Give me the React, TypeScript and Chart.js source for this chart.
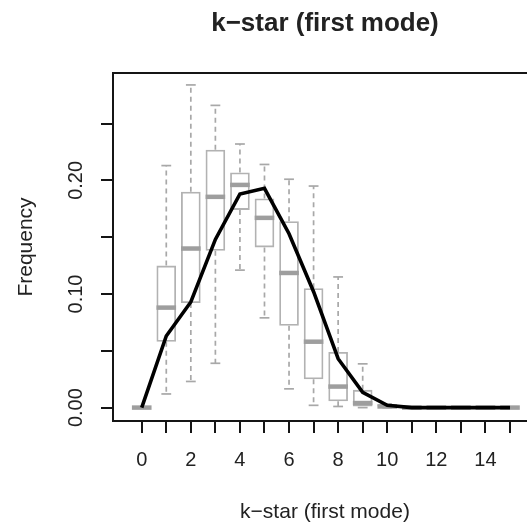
import React, { useEffect, useRef } from "react";
import { Chart, registerables } from "chart.js";

Chart.register(...registerables);

// ---- data ----
const kValues = [0, 1, 2, 3, 4, 5, 6, 7, 8, 9, 10, 11, 12, 13, 14, 15];
const whiskerLow = [0, 0.012, 0.023, 0.039, 0.121, 0.079, 0.0165, 0.002, 0.001, 0, 0, 0, 0, 0, 0, 0];
const quartile1 = [0, 0.058, 0.092, 0.138, 0.174, 0.141, 0.072, 0.025, 0.0056, 0, 0, 0, 0, 0, 0, 0];
const medians = [0, 0.088, 0.14, 0.1855, 0.196, 0.167, 0.1185, 0.058, 0.0185, 0.004, 0.001, 0, 0, 0, 0, 0];
const quartile3 = [0, 0.125, 0.19, 0.227, 0.207, 0.184, 0.164, 0.105, 0.049, 0.0156, 0.003, 0, 0, 0, 0, 0];
const whiskerHigh = [0, 0.213, 0.284, 0.266, 0.232, 0.214, 0.201, 0.195, 0.115, 0.0385, 0.003, 0, 0, 0, 0, 0];
const lineFreq = [0, 0.063, 0.093, 0.148, 0.188, 0.193, 0.153, 0.102, 0.043, 0.0135, 0.002, 0, 0, 0, 0, 0];

const xTickValues = kValues;
const yTickValues = [0, 0.05, 0.1, 0.15, 0.2, 0.25];
const yLabelValues = [0, 0.1, 0.2];

const mainTitle = "k\u2212star (first mode)";
const xTitle = "k\u2212star (first mode)";
const yTitle = "Frequency";

// ---- style ----
const FONT = "'Liberation Sans', Arial, Helvetica, sans-serif";
const AXIS_COLOR = "#151515";
const TEXT_COLOR = "#222";
const BOX_COLOR = "#b2b2b2";
const MEDIAN_COLOR = "#9e9e9e";
const WHISKER_COLOR = "#a8a8a8";

const boxExtras = {
  id: "boxExtras",
  beforeDatasetsDraw(chart: any) {
    const { ctx, chartArea, scales } = chart;
    const x = scales.x;
    const y = scales.y;
    const meta = chart.getDatasetMeta(0);
    ctx.save();
    ctx.beginPath();
    ctx.rect(chartArea.left, chartArea.top, chartArea.right - chartArea.left, chartArea.bottom - chartArea.top);
    ctx.clip();
    ctx.strokeStyle = WHISKER_COLOR;
    ctx.lineWidth = 1.7;
    ctx.setLineDash([5, 4]);
    kValues.forEach((k, i) => {
      const px = x.getPixelForValue(k);
      if (whiskerHigh[i] > quartile3[i]) {
        ctx.beginPath();
        ctx.moveTo(px, y.getPixelForValue(quartile3[i]));
        ctx.lineTo(px, y.getPixelForValue(whiskerHigh[i]));
        ctx.stroke();
      }
      if (whiskerLow[i] < quartile1[i]) {
        ctx.beginPath();
        ctx.moveTo(px, y.getPixelForValue(quartile1[i]));
        ctx.lineTo(px, y.getPixelForValue(whiskerLow[i]));
        ctx.stroke();
      }
    });
    ctx.setLineDash([]);
    kValues.forEach((k, i) => {
      const px = x.getPixelForValue(k);
      const bar = meta.data[i];
      const half = (bar && bar.width ? bar.width : 20) * 0.25;
      [whiskerHigh[i], whiskerLow[i]].forEach((v) => {
        const py = y.getPixelForValue(v);
        ctx.beginPath();
        ctx.moveTo(px - half, py);
        ctx.lineTo(px + half, py);
        ctx.stroke();
      });
    });
    ctx.restore();
  },
  afterDatasetDraw(chart: any, args: any) {
    if (args.index !== 0) return;
    const { ctx, scales } = chart;
    const x = scales.x;
    const y = scales.y;
    const meta = chart.getDatasetMeta(0);
    ctx.save();
    ctx.strokeStyle = MEDIAN_COLOR;
    ctx.lineWidth = 4.5;
    ctx.lineCap = "butt";
    kValues.forEach((k, i) => {
      const px = x.getPixelForValue(k);
      const bar = meta.data[i];
      const half = (bar && bar.width ? bar.width : 20) / 2;
      const py = y.getPixelForValue(medians[i]);
      ctx.beginPath();
      ctx.moveTo(px - half, py);
      ctx.lineTo(px + half, py);
      ctx.stroke();
    });
    ctx.restore();
  },
  afterDraw(chart: any) {
    const { ctx, chartArea, scales } = chart;
    const y = scales.y;
    ctx.save();
    // frame
    ctx.strokeStyle = AXIS_COLOR;
    ctx.lineWidth = 2;
    ctx.strokeRect(chartArea.left, chartArea.top, chartArea.right - chartArea.left, chartArea.bottom - chartArea.top);
    const cx = (chartArea.left + chartArea.right) / 2;
    const cy = (chartArea.top + chartArea.bottom) / 2;
    ctx.fillStyle = TEXT_COLOR;
    // main title
    ctx.font = `bold 26px ${FONT}`;
    ctx.textAlign = "center";
    ctx.textBaseline = "alphabetic";
    ctx.fillText(mainTitle, cx, 31);
    // x title
    ctx.font = `21px ${FONT}`;
    ctx.fillText(xTitle, cx, 518);
    // y title
    ctx.save();
    ctx.translate(32, cy);
    ctx.rotate(-Math.PI / 2);
    ctx.fillText(yTitle, 0, 0);
    ctx.restore();
    // y tick labels
    ctx.font = `20px ${FONT}`;
    yLabelValues.forEach((v) => {
      ctx.save();
      ctx.translate(82, y.getPixelForValue(v));
      ctx.rotate(-Math.PI / 2);
      ctx.fillText(v.toFixed(2), 0, 0);
      ctx.restore();
    });
    ctx.restore();
  },
};

export default function App() {
  const canvasRef = useRef<HTMLCanvasElement | null>(null);

  useEffect(() => {
    const canvas = canvasRef.current;
    if (!canvas) return;
    const chart = new Chart(canvas, {
      type: "bar",
      data: {
        datasets: [
          {
            type: "bar",
            data: kValues.map((k, i) => ({ x: k, y: [quartile1[i], quartile3[i]] })) as any,
            backgroundColor: "rgba(255,255,255,0)",
            borderColor: BOX_COLOR,
            borderWidth: 1.8,
            borderSkipped: false,
            barPercentage: 1,
            categoryPercentage: 0.8,
            order: 1,
          } as any,
          {
            type: "line",
            data: kValues.map((k, i) => ({ x: k, y: lineFreq[i] })) as any,
            borderColor: "#000",
            borderWidth: 3.6,
            pointRadius: 0,
            tension: 0,
            fill: false,
            order: 0,
          } as any,
        ],
      },
      options: {
        animation: false,
        responsive: false,
        devicePixelRatio: 1,
        layout: { padding: { top: 73, left: 0, right: 8, bottom: 0 } },
        plugins: {
          legend: { display: false },
          title: { display: false },
          tooltip: { enabled: false },
        },
        scales: {
          x: {
            type: "linear",
            min: -1.17,
            max: 16.1,
            offset: false,
            afterBuildTicks: (s: any) => {
              s.ticks = xTickValues.map((v) => ({ value: v }));
            },
            afterFit: (s: any) => {
              s.height = 105;
            },
            grid: {
              display: true,
              drawOnChartArea: false,
              drawTicks: true,
              tickLength: 12,
              color: AXIS_COLOR,
              lineWidth: 2,
              offset: false,
            },
            border: { display: false },
            ticks: {
              autoSkip: false,
              maxRotation: 0,
              minRotation: 0,
              padding: 15,
              color: TEXT_COLOR,
              font: { family: FONT, size: 20 },
              callback: (v: any) => (Number(v) % 2 === 0 ? String(v) : ""),
            },
          },
          y: {
            type: "linear",
            min: -0.0118,
            max: 0.2945,
            afterBuildTicks: (s: any) => {
              s.ticks = yTickValues.map((v) => ({ value: v }));
            },
            afterFit: (s: any) => {
              s.width = 113;
            },
            grid: {
              display: true,
              drawOnChartArea: false,
              drawTicks: true,
              tickLength: 12,
              color: AXIS_COLOR,
              lineWidth: 2,
            },
            border: { display: false },
            ticks: { display: false },
          },
        },
      } as any,
      plugins: [boxExtras],
    });
    return () => chart.destroy();
  }, []);

  return (
    <div
      style={{
        position: "fixed",
        left: 0,
        top: 0,
        width: 527,
        height: 526,
        overflow: "hidden",
        background: "#fff",
      }}
    >
      <canvas ref={canvasRef} width={545} height={526} style={{ display: "block", width: 545, height: 526 }} />
    </div>
  );
}
